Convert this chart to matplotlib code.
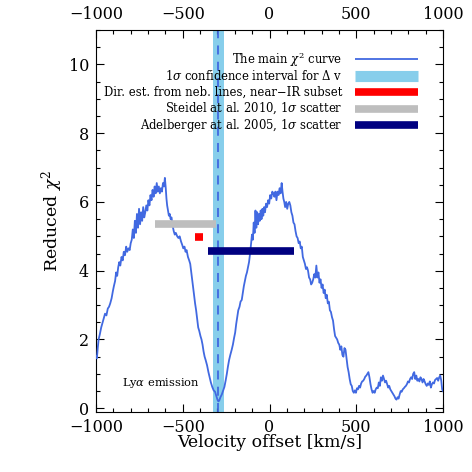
import matplotlib
matplotlib.use("Agg")
import matplotlib.pyplot as plt
from matplotlib.ticker import MultipleLocator

plt.rcParams['font.family'] = ['DejaVu Serif']
plt.rcParams['mathtext.fontset'] = 'dejavuserif'

# main chi^2 curve
velocity = [
    -1000, -995, -990, -985, -978, -970, -962, -955, -948, -940, -932, -925, -918, -910,
    -903, -897, -890, -884, -878, -872, -866, -860, -853, -846, -840, -833, -826, -820,
    -813, -806, -800, -794, -788, -782, -776, -770, -764, -758, -752, -746, -740, -734,
    -728, -722, -716, -710, -704, -698, -692, -686, -680, -674, -668, -662, -656, -650,
    -644, -638, -632, -626, -620, -614, -608, -603, -598, -594, -590, -585, -580, -575,
    -570, -565, -558, -552, -546, -540, -532, -525, -518, -510, -503, -497, -490, -484,
    -478, -470, -463, -457, -452, -447, -441, -435, -429, -423, -417, -411, -405, -398,
    -392, -386, -380, -374, -368, -360, -352, -345, -338, -330, -322, -314, -306, -300,
    -295, -290, -283, -275, -268, -260, -253, -246, -240, -233, -226, -218, -211, -204,
    -198, -192, -186, -180, -173, -167, -160, -154, -148, -142, -136, -130, -124, -118,
    -112, -106, -101, -96, -91, -86, -81, -76, -71, -66, -61, -56, -51, -46,
    -41, -36, -31, -26, -20, -14, -8, -2, 4, 10, 16, 22, 28, 34,
    40, 46, 52, 58, 64, 70, 75, 80, 85, 90, 96, 102, 108, 114,
    120, 126, 132, 138, 144, 150, 156, 162, 168, 174, 180, 186, 192, 198,
    204, 210, 216, 222, 228, 234, 240, 246, 252, 258, 264, 270, 276, 282,
    288, 294, 300, 306, 312, 318, 324, 330, 336, 342, 348, 354, 360, 366,
    372, 378, 384, 390, 396, 402, 408, 414, 420, 426, 432, 438, 444, 450,
    456, 462, 468, 474, 480, 486, 492, 498, 504, 510, 516, 522, 528, 534,
    540, 546, 552, 558, 564, 570, 576, 582, 588, 594, 600, 606, 612, 618,
    624, 630, 636, 642, 648, 654, 660, 666, 672, 678, 684, 690, 696, 702,
    708, 714, 720, 726, 732, 738, 744, 750, 756, 762, 768, 774, 780, 786,
    792, 798, 804, 810, 816, 822, 828, 834, 840, 846, 852, 858, 864, 870,
    876, 882, 888, 894, 900, 906, 912, 918, 924, 930, 936, 942, 948, 954,
    960, 966, 972, 978, 984, 990, 995, 1000,
]
chi2 = [
    1.50, 1.45, 1.75, 2.00, 2.15, 2.35, 2.50, 2.62, 2.75, 2.70, 2.90, 2.95, 3.05, 3.20,
    3.40, 3.55, 3.70, 3.95, 3.85, 4.10, 4.25, 4.15, 4.40, 4.30, 4.55, 4.45, 4.70, 4.55,
    4.65, 4.60, 4.80, 4.90, 5.20, 4.95, 5.45, 5.10, 5.65, 5.25, 5.80, 5.35, 5.70, 5.45,
    5.85, 5.55, 5.70, 5.90, 5.75, 6.05, 5.90, 6.20, 6.05, 6.35, 6.15, 6.45, 6.25, 6.55,
    6.30, 6.45, 6.25, 6.40, 6.30, 6.55, 6.45, 6.70, 6.40, 6.10, 5.90, 5.75, 5.60, 5.65,
    5.50, 5.55, 5.30, 5.15, 5.05, 5.10, 5.00, 4.95, 5.00, 4.85, 4.75, 4.65, 4.70, 4.55,
    4.60, 4.40, 4.30, 4.20, 4.00, 3.80, 3.55, 3.30, 3.05, 2.85, 2.60, 2.35, 2.25, 2.10,
    2.00, 1.85, 1.65, 1.50, 1.40, 1.25, 1.05, 0.90, 0.75, 0.62, 0.52, 0.48, 0.35, 0.25,
    0.20, 0.22, 0.32, 0.40, 0.50, 0.62, 0.80, 1.00, 1.20, 1.40, 1.55, 1.70, 1.85, 2.05,
    2.20, 2.45, 2.65, 2.85, 2.95, 3.10, 3.15, 3.35, 3.55, 3.70, 3.85, 3.95, 4.10, 4.25,
    4.50, 4.80, 5.05, 4.90, 5.40, 5.10, 5.75, 5.25, 5.70, 5.35, 5.65, 5.45, 5.75, 5.50,
    5.80, 5.60, 5.85, 5.70, 5.95, 5.85, 6.05, 5.95, 6.20, 6.10, 6.30, 6.25, 6.15, 6.30,
    6.05, 6.30, 6.20, 6.40, 6.25, 6.55, 6.30, 6.10, 6.00, 5.85, 6.00, 5.80, 5.95, 6.00,
    5.90, 5.70, 5.60, 5.40, 5.35, 5.15, 5.00, 4.95, 4.80, 4.85, 4.65, 4.70, 4.40, 4.30,
    4.20, 4.05, 4.10, 4.00, 3.80, 3.75, 3.60, 3.65, 3.75, 3.90, 3.80, 4.15, 3.80, 3.95,
    3.65, 3.75, 3.50, 3.60, 3.35, 3.45, 3.20, 3.30, 3.05, 3.10, 2.85, 2.80, 2.65, 2.55,
    2.30, 2.10, 2.05, 2.00, 1.90, 1.85, 1.70, 1.80, 1.55, 1.50, 1.75, 1.70, 1.45, 1.20,
    1.05, 0.85, 0.70, 0.65, 0.50, 0.45, 0.52, 0.45, 0.58, 0.55, 0.65, 0.60, 0.72, 0.78,
    0.80, 0.85, 0.92, 0.95, 1.00, 1.05, 0.90, 0.70, 0.55, 0.45, 0.50, 0.45, 0.55, 0.60,
    0.58, 0.75, 0.65, 0.90, 0.80, 0.95, 0.85, 0.75, 0.80, 0.70, 0.60, 0.65, 0.55, 0.50,
    0.45, 0.40, 0.35, 0.28, 0.25, 0.32, 0.28, 0.40, 0.50, 0.48, 0.55, 0.58, 0.62, 0.65,
    0.70, 0.78, 0.75, 0.85, 0.90, 0.85, 1.00, 1.05, 0.85, 0.95, 0.80, 0.85, 0.78, 0.90,
    0.85, 0.75, 0.85, 0.78, 0.70, 0.65, 0.72, 0.68, 0.78, 0.60, 0.70, 0.75, 0.72, 0.82,
    0.85, 0.88, 0.80, 0.90, 0.95, 0.80, 0.55, 0.50,
]

best_dv = -295
ci_low, ci_high = -327, -260

steidel_range = [-660, -310]
steidel_y = 5.37
direct_range = [-432, -384]
direct_y = 4.97
adelberger_range = [-353, 143]
adelberger_y = 4.57

legend_labels = [
    r"The main $\chi^2$ curve",
    r"1$\sigma$ confidence interval for $\Delta$ v",
    "Dir. est. from neb. lines, near\u2212IR subset",
    r"Steidel at al. 2010, 1$\sigma$ scatter",
    r"Adelberger at al. 2005, 1$\sigma$ scatter",
]
legend_rows = [10.15, 9.67, 9.19, 8.71, 8.23]

fig = plt.figure(figsize=(4.72, 4.72), dpi=100)
ax = fig.add_axes([0.2034, 0.1278, 0.7352, 0.8086])

ax.axvspan(ci_low, ci_high, color='#87CEEB', lw=0, zorder=1)
ax.axvline(best_dv, color='#4169E1', lw=1.3, dashes=(5, 4), zorder=2)
ax.plot(velocity, chi2, color='#4169E1', lw=1.3, zorder=3)

ax.plot(steidel_range, [steidel_y, steidel_y], color='#BEBEBE', lw=5.5, solid_capstyle='butt', zorder=4)
ax.plot(direct_range, [direct_y, direct_y], color='#FF0000', lw=5.5, solid_capstyle='butt', zorder=4)
ax.plot(adelberger_range, [adelberger_y, adelberger_y], color='#000080', lw=5.5, solid_capstyle='butt', zorder=4)

# legend drawn by hand, IDL style
leg_x0, leg_x1, txt_x = 490, 855, 420
styles = [('#4169E1', 1.3), ('#87CEEB', 8), ('#FF0000', 5.5), ('#BEBEBE', 5.5), ('#000080', 5.5)]
for lab, yy, (col, lw) in zip(legend_labels, legend_rows, styles):
    ax.text(txt_x, yy, lab, ha='right', va='center', fontsize=8.4, zorder=5)
    ax.plot([leg_x0, leg_x1], [yy, yy], color=col, lw=lw, solid_capstyle='butt', zorder=5)

ax.text(-852, 0.74, r"Ly$\alpha$ emission", ha='left', va='center', fontsize=8.2)

ax.set_xlim(-1000, 1000)
ax.set_ylim(-0.1, 11)
ax.xaxis.set_major_locator(MultipleLocator(500))
ax.xaxis.set_minor_locator(MultipleLocator(100))
ax.yaxis.set_major_locator(MultipleLocator(2))
ax.yaxis.set_minor_locator(MultipleLocator(0.5))
ax.tick_params(which='both', direction='in', top=True, right=True, labeltop=True,
               labelsize=11.5, width=0.8)
ax.tick_params(which='major', length=6)
ax.tick_params(which='minor', length=3)
ax.tick_params(axis='x', pad=5)
ax.tick_params(axis='y', pad=5)
for s in ax.spines.values():
    s.set_linewidth(0.8)

ax.set_xlabel("Velocity offset [km/s]", fontsize=12.5, labelpad=-1)
ax.set_ylabel(r"Reduced $\chi^2$", fontsize=12.5, labelpad=3)

fig.savefig("out.png", dpi=100)
